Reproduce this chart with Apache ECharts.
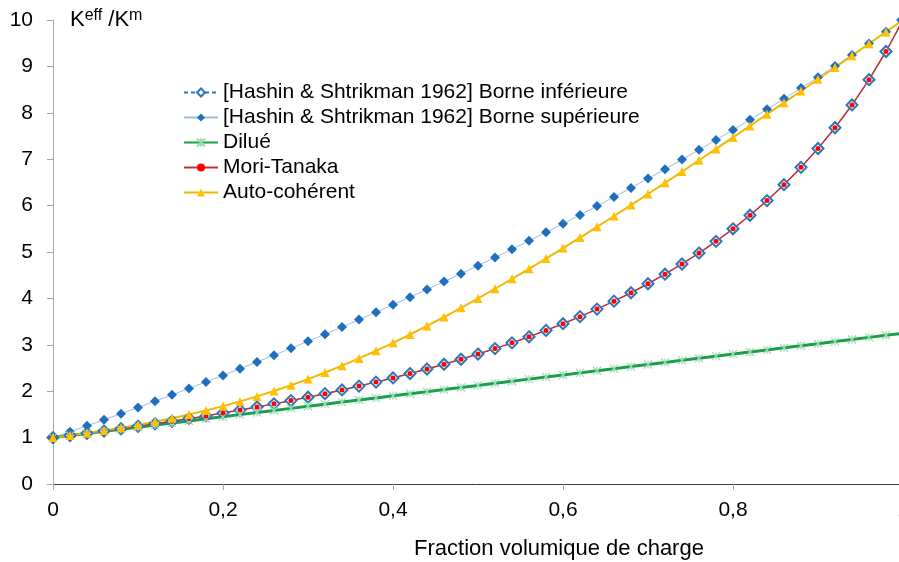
<!DOCTYPE html>
<html>
<head>
<meta charset="utf-8">
<title>Keff / Km</title>
<script src="https://cdn.jsdelivr.net/npm/echarts@6/dist/echarts.min.js"></script>
<style>
  html, body { margin: 0; padding: 0; background: #fff; }
  #chart { width: 899px; height: 562px; }
</style>
</head>
<body>
<div id="chart"></div>
<script>
// fraction volumique (axe x)
const fractions = [0, 0.02, 0.04, 0.06, 0.08, 0.1, 0.12, 0.14, 0.16, 0.18,
  0.2, 0.22, 0.24, 0.26, 0.28, 0.3, 0.32, 0.34, 0.36, 0.38,
  0.4, 0.42, 0.44, 0.46, 0.48, 0.5, 0.52, 0.54, 0.56, 0.58,
  0.6, 0.62, 0.64, 0.66, 0.68, 0.7, 0.72, 0.74, 0.76, 0.78,
  0.8, 0.82, 0.84, 0.86, 0.88, 0.9, 0.92, 0.94, 0.96, 0.98, 1]

// borne inferieure HS
const hsLower = [1, 1.046, 1.093, 1.141, 1.191, 1.243, 1.297, 1.352, 1.409, 1.468,
  1.529, 1.593, 1.659, 1.727, 1.797, 1.871, 1.947, 2.027, 2.110, 2.196,
  2.286, 2.380, 2.478, 2.580, 2.688, 2.800, 2.918, 3.042, 3.172, 3.310,
  3.455, 3.607, 3.769, 3.941, 4.122, 4.316, 4.522, 4.742, 4.977, 5.229,
  5.500, 5.792, 6.108, 6.451, 6.824, 7.231, 7.677, 8.169, 8.714, 9.321, 10]

// borne superieure HS
const hsUpper = [1, 1.127, 1.255, 1.385, 1.516, 1.649, 1.784, 1.921, 2.059, 2.199,
  2.340, 2.484, 2.629, 2.777, 2.926, 3.077, 3.230, 3.385, 3.543, 3.702,
  3.864, 4.027, 4.194, 4.362, 4.533, 4.706, 4.882, 5.060, 5.240, 5.424,
  5.610, 5.799, 5.990, 6.185, 6.382, 6.582, 6.786, 6.992, 7.202, 7.415,
  7.632, 7.851, 8.075, 8.302, 8.533, 8.767, 9.006, 9.248, 9.494, 9.745, 10]

// dilue
const dilue = [1, 1.045, 1.09, 1.135, 1.18, 1.225, 1.27, 1.315, 1.36, 1.405,
  1.45, 1.495, 1.54, 1.585, 1.63, 1.675, 1.72, 1.765, 1.81, 1.855,
  1.9, 1.945, 1.99, 2.035, 2.08, 2.125, 2.17, 2.215, 2.26, 2.305,
  2.35, 2.395, 2.44, 2.485, 2.53, 2.575, 2.62, 2.665, 2.71, 2.755,
  2.8, 2.845, 2.89, 2.935, 2.98, 3.025, 3.07, 3.115, 3.16, 3.205, 3.25]

// Mori-Tanaka
const moriTanaka = [1, 1.046, 1.093, 1.141, 1.191, 1.243, 1.297, 1.352, 1.409, 1.468,
  1.529, 1.593, 1.659, 1.727, 1.797, 1.871, 1.947, 2.027, 2.110, 2.196,
  2.286, 2.380, 2.478, 2.580, 2.688, 2.800, 2.918, 3.042, 3.172, 3.310,
  3.455, 3.607, 3.769, 3.941, 4.122, 4.316, 4.522, 4.742, 4.977, 5.229,
  5.500, 5.792, 6.108, 6.451, 6.824, 7.231, 7.677, 8.169, 8.714, 9.321, 10]

// auto-coherent
const autoCoherent = [1, 1.047, 1.097, 1.152, 1.211, 1.274, 1.343, 1.417, 1.498, 1.585,
  1.679, 1.780, 1.888, 2.004, 2.129, 2.261, 2.402, 2.550, 2.707, 2.871,
  3.043, 3.222, 3.407, 3.599, 3.797, 4.000, 4.208, 4.421, 4.638, 4.859,
  5.084, 5.311, 5.542, 5.776, 6.012, 6.250, 6.490, 6.733, 6.977, 7.222,
  7.469, 7.718, 7.968, 8.218, 8.470, 8.723, 8.977, 9.232, 9.487, 9.743, 10]

const seriesNames = [
  '[Hashin & Shtrikman 1962] Borne inférieure',
  '[Hashin & Shtrikman 1962] Borne supérieure',
  'Dilué',
  'Mori-Tanaka',
  'Auto-cohérent'
]

const pairs = vals => fractions.map((x, i) => [x, vals[i]])
const font = 'Liberation Sans, Arial, sans-serif'

const chart = echarts.init(document.getElementById('chart'))
const option = {
  animation: false,
  textStyle: { fontFamily: font },
  // la zone de tracé dépasse à droite (x=1 est coupé dans l'original)
  grid: { left: 53, top: 20, width: 850, height: 464, outerBoundsMode: 'none', containLabel: false },
  legend: {
    orient: 'vertical',
    left: 178,
    top: 77,
    itemWidth: 34,
    itemHeight: 10,
    itemGap: 4,
    data: seriesNames,
    textStyle: { fontSize: 21, color: '#000', lineHeight: 21, fontFamily: font }
  },
  xAxis: {
    type: 'value',
    min: 0,
    max: 1,
    interval: 0.2,
    axisLine: { lineStyle: { color: '#404040', width: 1 } },
    axisTick: { show: true, length: 6, lineStyle: { color: '#a6a6a6' } },
    splitLine: { show: false },
    axisLabel: {
      margin: 16,
      fontSize: 21,
      color: '#000',
      formatter: v => String(v).replace('.', ',')
    }
  },
  yAxis: {
    type: 'value',
    min: 0,
    max: 10,
    interval: 1,
    axisLine: { show: true, lineStyle: { color: '#a6a6a6', width: 1 } },
    axisTick: { show: true, length: 6, lineStyle: { color: '#a6a6a6' } },
    splitLine: { show: false },
    axisLabel: { margin: 20, fontSize: 21, color: '#000' }
  },
  graphic: [
    {
      type: 'text',
      left: 70,
      top: 8,
      style: {
        text: 'K{sup|eff} /K{sup|m}',
        font: '22px ' + font,
        fill: '#000',
        rich: {
          sup: { fontSize: 16, verticalAlign: 'top', lineHeight: 24, fill: '#000' }
        }
      }
    },
    {
      type: 'text',
      x: 559,
      y: 549,
      style: {
        text: 'Fraction volumique de charge',
        font: '22px ' + font,
        fill: '#000',
        align: 'center',
        verticalAlign: 'middle'
      }
    }
  ],
  series: [
    {
      name: seriesNames[0],
      type: 'line',
      data: pairs(hsLower),
      symbol: 'diamond',
      symbolSize: 11,
      lineStyle: { color: '#2e75b6', width: 1, type: [4, 3] },
      itemStyle: { color: '#ffffff', borderColor: '#2e75b6', borderWidth: 2 }
    },
    {
      name: seriesNames[1],
      type: 'line',
      data: pairs(hsUpper),
      symbol: 'diamond',
      symbolSize: 10,
      lineStyle: { color: '#9dbde0', width: 1 },
      itemStyle: { color: '#1f6fbf' }
    },
    {
      name: seriesNames[2],
      type: 'line',
      data: pairs(dilue),
      symbol: 'path://M0,0L10,10M10,0L0,10M5,0L5,10',
      symbolSize: 8,
      lineStyle: { color: '#1a9f4c', width: 3 },
      itemStyle: { color: '#a8e2ba', borderColor: '#98dcae', borderWidth: 1.2 }
    },
    {
      name: seriesNames[3],
      type: 'line',
      data: pairs(moriTanaka),
      symbol: 'circle',
      symbolSize: 5,
      lineStyle: { color: '#c0303a', width: 1.5 },
      itemStyle: { color: '#ff0000' }
    },
    {
      name: seriesNames[4],
      type: 'line',
      data: pairs(autoCoherent),
      symbol: 'triangle',
      symbolSize: 9,
      lineStyle: { color: '#f2b705', width: 2 },
      itemStyle: { color: '#ffc000' }
    }
  ]
}
chart.setOption(option)
</script>
</body>
</html>
